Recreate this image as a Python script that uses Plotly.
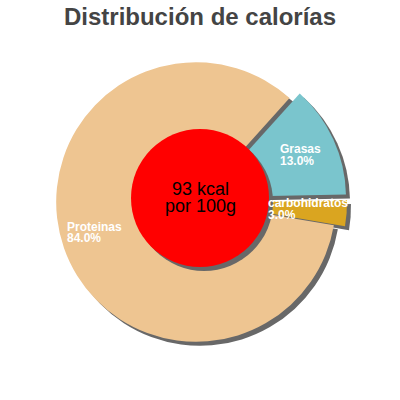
import plotly.graph_objects as go

# Data
labels = ["Grasas", "carbohidratos", "Proteinas"]
values = [13.0, 3.0, 84.0]
colors = ["#7AC5CD", "#DAA520", "#EEC591"]
pulls = [0.08, 0.08, 0]
kcal_text = ["93 kcal", "por 100g"]

W = H = 400
shadow = "#686868"


def px(x):
    return x / W


def py(y):
    return 1 - y / H


# pie placement (pixels)
cx, cy, half = 196, 202, 151
dom_x = [px(cx - half), px(cx + half)]
dom_y = [py(cy + half), py(cy - half)]
off = 4

fig = go.Figure()

# shadow pie
fig.add_trace(go.Pie(
    labels=labels, values=values, sort=False, direction="clockwise",
    rotation=42, pull=pulls, textinfo="none", hoverinfo="skip",
    marker=dict(colors=[shadow] * len(values), line=dict(width=0)),
    domain=dict(x=[dom_x[0] + px(off), dom_x[1] + px(off)],
                y=[dom_y[0] - off / H, dom_y[1] - off / H]),
    showlegend=False,
))

# main pie
fig.add_trace(go.Pie(
    labels=labels, values=values, sort=False, direction="clockwise",
    rotation=42, pull=pulls, textinfo="none", hoverinfo="label+percent",
    marker=dict(colors=colors, line=dict(width=0)),
    domain=dict(x=dom_x, y=dom_y),
    showlegend=False,
))

# red centre circle with shadow
rcx, rcy, rr = 200, 198, 69
fig.add_shape(type="circle", xref="paper", yref="paper",
              x0=px(rcx - rr + off), x1=px(rcx + rr + off),
              y0=py(rcy + rr + off), y1=py(rcy - rr + off),
              fillcolor=shadow, line_width=0)
fig.add_shape(type="circle", xref="paper", yref="paper",
              x0=px(rcx - rr), x1=px(rcx + rr),
              y0=py(rcy + rr), y1=py(rcy - rr),
              fillcolor="#FF0000", line_width=0)

for txt, yy in zip(kcal_text, [189, 206]):
    fig.add_annotation(x=px(200), y=py(yy), xref="paper", yref="paper",
                       text=txt, showarrow=False, xanchor="center", yanchor="middle",
                       font=dict(family="Liberation Sans, Arial", size=18, color="black"))

# slice labels
label_pos = [(278, 149, 161), (266, 203, 215), (65, 227, 238)]
total = sum(values)
for lab, val, (lx, y1, y2) in zip(labels, values, label_pos):
    for txt, yy in [(lab, y1), (f"{val / total * 100:.1f}%", y2)]:
        fig.add_annotation(x=px(lx), y=py(yy), xref="paper", yref="paper",
                           text=f"<b>{txt}</b>", showarrow=False,
                           xanchor="left", yanchor="middle",
                           font=dict(family="Liberation Sans, Arial", size=12, color="white"))

fig.update_layout(
    width=W, height=H,
    margin=dict(l=0, r=0, t=0, b=0),
    paper_bgcolor="white", plot_bgcolor="white",
    title=dict(text="<b>Distribución de calorías</b>", x=0.5, xanchor="center",
               y=py(17), yanchor="middle",
               font=dict(family="Liberation Sans, Arial", size=24, color="#444444")),
)

# the page body has a default 8px margin; drop it so the figure sits at 0,0
fig.write_html("out.html", config={"displayModeBar": False},
               post_script="document.body.style.margin='0';")
